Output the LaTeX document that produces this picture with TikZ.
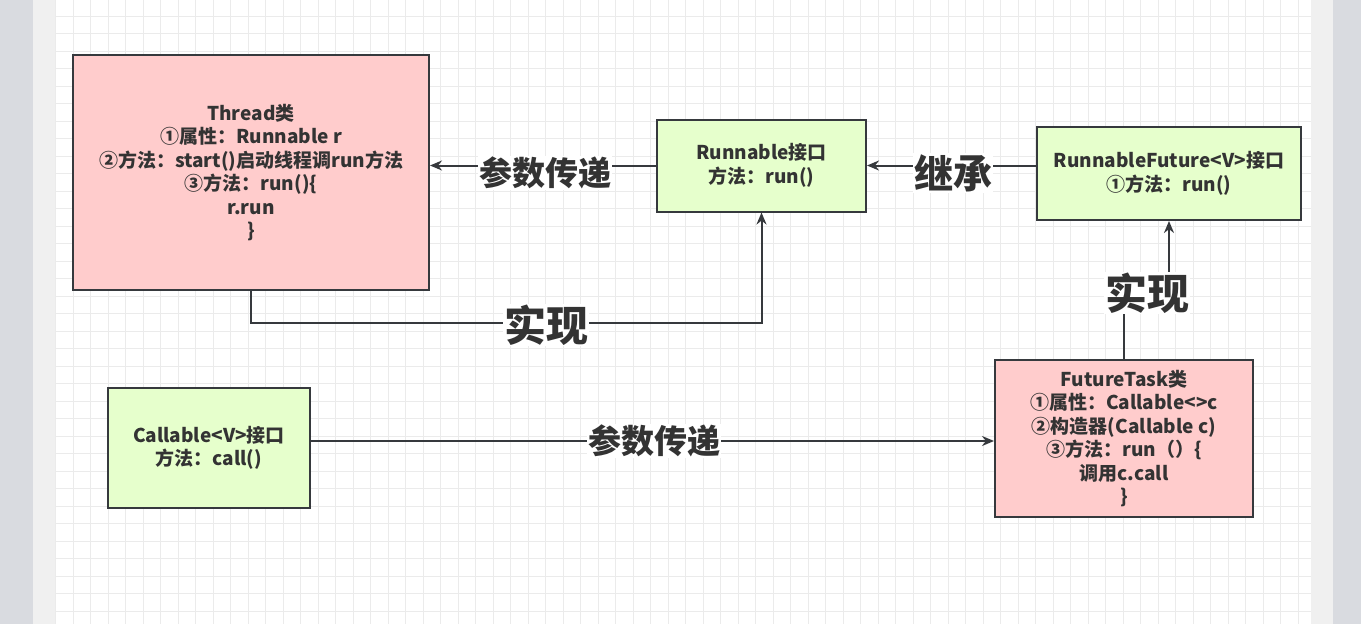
\documentclass[tikz,border=0pt]{standalone}
\usepackage{fontspec}
\setmainfont{Noto Sans CJK SC}
\usetikzlibrary{arrows.meta}
\definecolor{pinkfill}{HTML}{FFCCCC}
\definecolor{greenfill}{HTML}{E6FFCC}
\definecolor{edgec}{HTML}{36393D}
\definecolor{sidegrey}{HTML}{D9DBE0}
\definecolor{sidelight}{HTML}{F0F0F0}
\definecolor{gridc}{HTML}{EBEBEB}
\definecolor{textc}{HTML}{333333}
\tikzset{
  boxbase/.style={draw=edgec, line width=2pt, text=textc, align=center,
    font=\bfseries\fontsize{19}{23.5}\selectfont, inner sep=0pt},
  pinkbox/.style={boxbase, fill=pinkfill},
  greenbox/.style={boxbase, fill=greenfill},
  arr/.style={draw=edgec, line width=2pt, -{Stealth[length=12pt,width=10pt]}},
  lbl/.style={fill=white, text=textc, inner sep=1pt, font=\bfseries},
}
\begin{document}
\begin{tikzpicture}[x=1pt,y=-1pt]
\useasboundingbox (0,0) rectangle (1361,624);
% background
\fill[sidegrey] (0,0) rectangle (1361,624);
\fill[sidelight] (33,0) rectangle (1333,624);
\fill[white] (55,0) rectangle (1311,624);
\foreach \i in {0,...,71} {
  \draw[gridc, line width=1pt] (55.5+\i*17.5,0) -- (55.5+\i*17.5,624);
}
\foreach \j in {0,...,35} {
  \draw[gridc, line width=1pt] (55,16+\j*17.5) -- (1311,16+\j*17.5);
}
% nodes
\node[pinkbox, minimum width=356pt, minimum height=235pt] (thread) at (251,172.5)
  {Thread类\\①属性：Runnable r\\②方法：start()启动线程调run方法\\③方法：run()\{\\r.run\\\}};
\node[greenbox, minimum width=209pt, minimum height=92pt] (runnable) at (761.5,165.5)
  {Runnable接口\\方法：run()};
\node[greenbox, minimum width=264pt, minimum height=93pt] (rfuture) at (1169,173.5)
  {RunnableFuture<V>接口\\①方法：run()};
\node[pinkbox, minimum width=258pt, minimum height=157pt] (ftask) at (1124,438.5)
  {FutureTask类\\①属性：Callable<>c\\②构造器(Callable c)\\③方法：run（）\{\\调用c.call\\\}};
\node[greenbox, minimum width=202pt, minimum height=120pt] (callable) at (209,448)
  {Callable<V>接口\\方法：call()};
% helper coordinates
\coordinate (c1) at (0,323);
\coordinate (c2) at (0,293);
% connectors
\draw[arr] (runnable.west) -- (thread.east |- runnable.west);
\draw[arr] (rfuture.west |- runnable.west) -- (runnable.west -| runnable.east);
\draw[arr] (thread.south) |- (runnable.south |- c1) -- (runnable.south);
\draw[arr] (ftask.north) -- (ftask.north |- c2) -| (rfuture.south);
\draw[arr] (callable.east |- 0,441) -- (ftask.west |- 0,441);
% labels
\node[lbl, font=\bfseries\fontsize{33}{36}\selectfont] (l1) at (545,173) {参数传递};
\node[lbl, font=\bfseries\fontsize{39}{42}\selectfont] (l2) at (953,173) {继承};
\node[lbl, font=\bfseries\fontsize{42}{45}\selectfont] (l3) at (546,325) {实现};
\node[lbl, font=\bfseries\fontsize{42}{45}\selectfont] (l4) at (1147,293) {实现};
\node[lbl, font=\bfseries\fontsize{33}{36}\selectfont] (l5) at (654,441) {参数传递};
\end{tikzpicture}
\end{document}
